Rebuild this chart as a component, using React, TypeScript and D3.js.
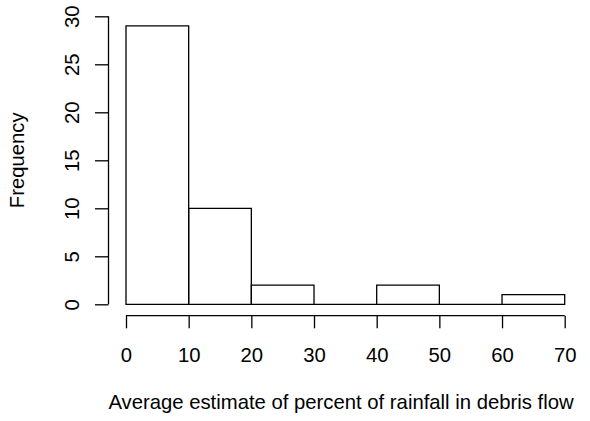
import React, { useRef, useEffect } from "react";
import * as d3 from "d3";

// histogram bins (percent) and counts
const binStarts = [0, 10, 20, 30, 40, 50, 60];
const binWidth = 10;
const counts = [29, 10, 2, 0, 2, 0, 1];
const xTicks = [0, 10, 20, 30, 40, 50, 60, 70];
const yTicks = [0, 5, 10, 15, 20, 25, 30];

const App = () => {
  const svgRef = useRef<SVGSVGElement>(null);

  useEffect(() => {
    const svg = d3.select(svgRef.current);
    svg.selectAll("*").remove();
    const width = 590;
    const height = 421;
    const font = "'Liberation Sans', Arial, Helvetica, sans-serif";
    const fs = 20.3;

    svg.attr("width", width).attr("height", height);

    const x = d3.scaleLinear().domain([0, 70]).range([126, 564.7]);
    const y = d3.scaleLinear().domain([0, 30]).range([304.3, 16.3]);

    svg
      .append("rect")
      .attr("width", width)
      .attr("height", height)
      .attr("fill", "#fff");

    // bars (paths so that empty bins still show a flat line)
    svg
      .selectAll(".bar")
      .data(binStarts)
      .enter()
      .append("path")
      .attr("class", "bar")
      .attr("d", (d, i) => {
        const x0 = x(d), x1 = x(d + binWidth), y0 = y(0), y1 = y(counts[i]);
        return `M${x0},${y0}V${y1}H${x1}V${y0}Z`;
      })
      .attr("fill", "none")
      .attr("stroke", "#000")
      .attr("stroke-width", 1.3);

    // x axis
    const xAxis = svg
      .append("g")
      .attr("transform", "translate(0,315.7)")
      .call(d3.axisBottom(x).tickValues(xTicks).tickSize(12.6).tickPadding(19.5).tickFormat(d3.format("d")));
    xAxis.select(".domain").attr("d", `M${x(0)},0H${x(70)}`);
    xAxis.selectAll("line, path").attr("stroke", "#000").attr("stroke-width", 1.3);
    xAxis
      .selectAll("text")
      .attr("font-family", font)
      .attr("font-size", fs)
      .attr("fill", "#000");

    // y axis
    const yAxis = svg
      .append("g")
      .attr("transform", "translate(108.5,0)")
      .call(d3.axisLeft(y).tickValues(yTicks).tickSize(13.5).tickFormat(d3.format("d")));
    yAxis.select(".domain").attr("d", `M0,${y(0)}V${y(30)}`);
    yAxis.selectAll("line, path").attr("stroke", "#000").attr("stroke-width", 1.3);
    yAxis
      .selectAll("text")
      .attr("font-family", font)
      .attr("font-size", fs)
      .attr("fill", "#000")
      .attr("text-anchor", "middle")
      .attr("x", 0)
      .attr("dy", 0)
      .attr("transform", "translate(-30,0) rotate(-90)");

    // axis titles
    svg
      .append("text")
      .attr("x", 341)
      .attr("y", 409)
      .attr("text-anchor", "middle")
      .attr("font-family", font)
      .attr("font-size", fs)
      .text("Average estimate of percent of rainfall in debris flow");

    svg
      .append("text")
      .attr("transform", "translate(24,160.3) rotate(-90)")
      .attr("text-anchor", "middle")
      .attr("font-family", font)
      .attr("font-size", fs)
      .text("Frequency");
  }, []);

  return (
    <div style={{ position: "absolute", left: 0, top: 0 }}>
      <svg ref={svgRef}></svg>
    </div>
  );
};

export default App;
